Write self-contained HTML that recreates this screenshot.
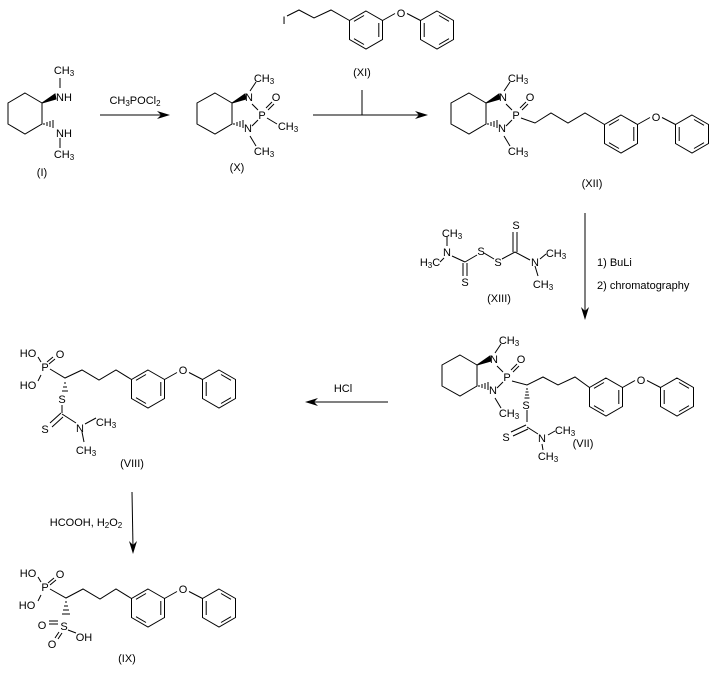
<!DOCTYPE html>
<html><head><meta charset="utf-8"><style>
html,body{margin:0;padding:0;background:#fff}
svg{display:block}
text{font-family:"Liberation Sans",Arial,sans-serif;font-size:11px;fill:#000;text-anchor:middle}
.s{font-size:8px}
.l{text-anchor:start}
</style></head><body>
<svg width="718" height="678" viewBox="0 0 718 678" xmlns="http://www.w3.org/2000/svg">
<defs>
<g id="pp" stroke="#000" stroke-width="1" fill="none">
<polygon points="0,-19 16.5,-9.5 16.5,9.5 0,19 -16.5,9.5 -16.5,-9.5"/>
<line x1="12.8" y1="-7" x2="12.8" y2="7"/>
<line x1="-2" y1="14.5" x2="-12" y2="8.7"/>
<line x1="-12" y1="-8.7" x2="-2" y2="-14.5"/>
<line x1="16.5" y1="-9.5" x2="29" y2="-16.5"/>
<line x1="41" y1="-16.5" x2="54.5" y2="-9.5"/>
<polygon points="71,-19 87.5,-9.5 87.5,9.5 71,19 54.5,9.5 54.5,-9.5"/>
<line x1="73" y1="-14.5" x2="83" y2="-8.7"/>
<line x1="83" y1="8.7" x2="73" y2="14.5"/>
<line x1="58.2" y1="-7" x2="58.2" y2="7"/>
</g>
<g id="bc" stroke="#000" stroke-width="1" fill="none">
<polygon points="215,93 232,103 232,124 215,134 197,124 197,103"/>
<line x1="252" y1="104" x2="258" y2="110"/>
<line x1="252" y1="126" x2="258" y2="120"/>
<line x1="266" y1="108" x2="272" y2="102"/>
<line x1="268" y1="110" x2="274" y2="104"/>
<line x1="250" y1="91" x2="256" y2="82"/>
<line x1="250" y1="136" x2="256" y2="146"/>
<polygon points="232,103 245,94 246,99" fill="#000"/>
<g stroke-width="1"><line x1="234" y1="123" x2="234" y2="125"/><line x1="237" y1="122" x2="237" y2="126"/><line x1="240" y1="121" x2="240" y2="127"/><line x1="243" y1="120" x2="243" y2="128"/></g>
</g>
</defs>

<!-- (I) -->
<g stroke="#000" fill="none">
<polygon points="25,93 42,103 42,124 25,134 8,124 8,103"/>
<polygon points="42,103 55,94 56,99" fill="#000"/>
<line x1="44" y1="123" x2="44" y2="125"/><line x1="47" y1="122" x2="47" y2="126"/><line x1="50" y1="121" x2="50" y2="127"/><line x1="53" y1="120" x2="53" y2="128"/>
<line x1="60" y1="78" x2="60" y2="88"/>
<line x1="60" y1="138" x2="60" y2="148"/>
</g>
<text x="64" y="74">CH<tspan class="s" dy="2">3</tspan></text>
<text x="64" y="101">NH</text>
<text x="64" y="137">NH</text>
<text x="64" y="158">CH<tspan class="s" dy="2">3</tspan></text>
<text x="42" y="176">(I)</text>

<!-- arrow I->X -->
<g stroke="#000"><line x1="100" y1="115" x2="165" y2="115"/></g>
<polygon points="170,115 157,111 161,115 157,119" fill="#000"/>
<text x="135" y="104">CH<tspan class="s" dy="2">3</tspan><tspan dy="-2">POCl</tspan><tspan class="s" dy="2">2</tspan></text>

<!-- (X) -->
<use href="#bc"/>
<g stroke="#000"><line x1="267" y1="118" x2="277" y2="124"/></g>
<text x="249" y="101">N</text>
<text x="248" y="132">N</text>
<text x="262" y="119">P</text>
<text x="276" y="101">O</text>
<text x="264" y="82">CH<tspan class="s" dy="2">3</tspan></text>
<text x="264" y="155">CH<tspan class="s" dy="2">3</tspan></text>
<text x="288" y="130">CH<tspan class="s" dy="2">3</tspan></text>
<text x="237" y="171">(X)</text>

<!-- (XI) -->
<use href="#pp" transform="translate(366,30)"/>
<g stroke="#000" fill="none"><polyline points="287,16 299,10 314,18 331,10 349.5,20.5"/></g>
<text x="284" y="24">I</text>
<text x="401" y="17">O</text>
<text x="362" y="76">(XI)</text>

<!-- arrow X->XII -->
<g stroke="#000"><line x1="313" y1="115" x2="422" y2="115"/><line x1="362" y1="90" x2="362" y2="115"/></g>
<polygon points="428,115 415,111 419,115 415,119" fill="#000"/>

<!-- (XII) -->
<use href="#bc" transform="translate(254,0)"/>
<use href="#pp" transform="translate(621,134)"/>
<g stroke="#000" fill="none"><polyline points="521,118 535,123 551,113 568,123 585,113 604.5,124.5"/></g>
<text x="503" y="101">N</text>
<text x="502" y="132">N</text>
<text x="516" y="119">P</text>
<text x="530" y="101">O</text>
<text x="518" y="82">CH<tspan class="s" dy="2">3</tspan></text>
<text x="518" y="155">CH<tspan class="s" dy="2">3</tspan></text>
<text x="656" y="121">O</text>
<text x="592" y="187">(XII)</text>

<!-- (XIII) -->
<g stroke="#000" fill="none">
<line x1="447" y1="237" x2="447" y2="246"/>
<line x1="440" y1="262" x2="444" y2="258"/>
<line x1="452" y1="256" x2="465" y2="262"/>
<line x1="465" y1="262" x2="477" y2="255"/>
<line x1="463" y1="263" x2="463" y2="276"/><line x1="467" y1="263" x2="467" y2="276"/>
<line x1="484" y1="253" x2="494" y2="259"/>
<line x1="502" y1="259" x2="515" y2="252"/>
<line x1="513" y1="252" x2="513" y2="232"/><line x1="517" y1="252" x2="517" y2="232"/>
<line x1="515" y1="252" x2="530" y2="260"/>
<line x1="540" y1="259" x2="546" y2="254"/>
<line x1="535" y1="266" x2="538" y2="276"/>
</g>
<text x="452" y="237">CH<tspan class="s" dy="2">3</tspan></text>
<text x="447" y="256">N</text>
<text x="430" y="266">H<tspan class="s" dy="2">3</tspan><tspan dy="-2">C</tspan></text>
<text x="465" y="286">S</text>
<text x="481" y="255">S</text>
<text x="498" y="266">S</text>
<text x="516" y="229">S</text>
<text x="535" y="266">N</text>
<text x="556" y="257">CH<tspan class="s" dy="2">3</tspan></text>
<text x="543" y="288">CH<tspan class="s" dy="2">3</tspan></text>
<text x="499" y="302">(XIII)</text>

<!-- vertical arrow -->
<g stroke="#000"><line x1="585" y1="213" x2="585" y2="314"/></g>
<polygon points="585,320 581,307 585,311 589,307" fill="#000"/>
<text class="l" x="597" y="266">1) BuLi</text>
<text class="l" x="597" y="289">2) chromatography</text>

<!-- (VII) -->
<use href="#bc" transform="translate(245,262)"/>
<use href="#pp" transform="translate(606,397)"/>
<g stroke="#000" fill="none">
<polyline points="512,381 527,385 543,377 558,385 575,377 589.5,387.5"/>
<line x1="527" y1="410" x2="527" y2="422"/>
<line x1="527" y1="427" x2="538" y2="434"/>
<line x1="526" y1="425" x2="511" y2="432"/><line x1="528" y1="429" x2="513" y2="436"/>
<line x1="548" y1="435" x2="555" y2="431"/>
<line x1="542" y1="444" x2="543" y2="450"/>
</g>
<g stroke="#000"><line x1="526" y1="389" x2="528" y2="389"/><line x1="525.5" y1="392" x2="528.5" y2="392"/><line x1="525" y1="395" x2="529" y2="395"/><line x1="524.5" y1="398" x2="529.5" y2="398"/></g>
<text x="494" y="363">N</text>
<text x="493" y="394">N</text>
<text x="507" y="381">P</text>
<text x="521" y="363">O</text>
<text x="509" y="344">CH<tspan class="s" dy="2">3</tspan></text>
<text x="509" y="417">CH<tspan class="s" dy="2">3</tspan></text>
<text x="526" y="409">S</text>
<text x="506" y="441">S</text>
<text x="542" y="442">N</text>
<text x="565" y="434">CH<tspan class="s" dy="2">3</tspan></text>
<text x="548" y="460">CH<tspan class="s" dy="2">3</tspan></text>
<text x="641" y="384">O</text>
<text x="583" y="447">(VII)</text>

<!-- HCl arrow -->
<g stroke="#000"><line x1="388" y1="402" x2="311" y2="402"/></g>
<polygon points="305,402 318,398 314,402 318,406" fill="#000"/>
<text x="343" y="392">HCl</text>

<!-- (VIII) -->
<use href="#pp" transform="translate(148,389)"/>
<g stroke="#000" fill="none">
<line x1="38" y1="357" x2="41" y2="362"/>
<line x1="38" y1="381" x2="41" y2="375"/>
<line x1="47" y1="362" x2="53" y2="357"/><line x1="49" y1="364" x2="55" y2="359"/>
<polyline points="50,369 65,378 82,370 99,380 116,370 131.5,379.5"/>
<line x1="62" y1="405" x2="62" y2="413"/>
<line x1="62" y1="414" x2="76" y2="423"/>
<line x1="61" y1="413" x2="50" y2="423"/><line x1="63" y1="417" x2="52" y2="427"/>
<line x1="85" y1="424" x2="96" y2="418"/>
<line x1="82" y1="432" x2="84" y2="442"/>
</g>
<g stroke="#000"><line x1="64" y1="383" x2="66" y2="383"/><line x1="63" y1="387" x2="67" y2="387"/><line x1="62" y1="391" x2="68" y2="391"/></g>
<text x="28" y="357">HO</text>
<text x="60" y="358">O</text>
<text x="45" y="371">P</text>
<text x="28" y="389">HO</text>
<text x="62" y="403">S</text>
<text x="45" y="433">S</text>
<text x="80" y="432">N</text>
<text x="106" y="426">CH<tspan class="s" dy="2">3</tspan></text>
<text x="86" y="454">CH<tspan class="s" dy="2">3</tspan></text>
<text x="183" y="374">O</text>
<text x="132" y="467">(VIII)</text>

<!-- VIII->IX arrow -->
<g stroke="#000"><line x1="132" y1="492" x2="133" y2="547"/></g>
<polygon points="133,554 129,541 133,545 137,541" fill="#000"/>
<text x="86" y="526">HCOOH, H<tspan class="s" dy="2">2</tspan><tspan dy="-2">O</tspan><tspan class="s" dy="2">2</tspan></text>

<!-- (IX) -->
<use href="#pp" transform="translate(148,608)"/>
<g stroke="#000" fill="none">
<line x1="38" y1="577" x2="41" y2="582"/>
<line x1="38" y1="601" x2="41" y2="595"/>
<line x1="48" y1="583" x2="54" y2="578"/><line x1="50" y1="585" x2="56" y2="580"/>
<polyline points="50,589 66,598 83,589 100,599 116,589 131.5,598.5"/>
<line x1="49" y1="621" x2="58" y2="621"/><line x1="49" y1="624" x2="58" y2="624"/>
<line x1="59" y1="632" x2="55" y2="638"/><line x1="62" y1="633" x2="58" y2="639"/>
<line x1="68" y1="630" x2="76" y2="633"/>
</g>
<g stroke="#000"><line x1="65" y1="602" x2="67" y2="602"/><line x1="64" y1="606" x2="68" y2="606"/><line x1="63" y1="610" x2="69" y2="610"/><line x1="62" y1="614" x2="70" y2="614"/></g>
<text x="28" y="577">HO</text>
<text x="60" y="578">O</text>
<text x="45" y="591">P</text>
<text x="27" y="609">HO</text>
<text x="64" y="630">S</text>
<text x="42" y="629">O</text>
<text x="52" y="648">O</text>
<text x="84" y="641">OH</text>
<text x="183" y="593">O</text>
<text x="127" y="662">(IX)</text>
</svg>
</body></html>
